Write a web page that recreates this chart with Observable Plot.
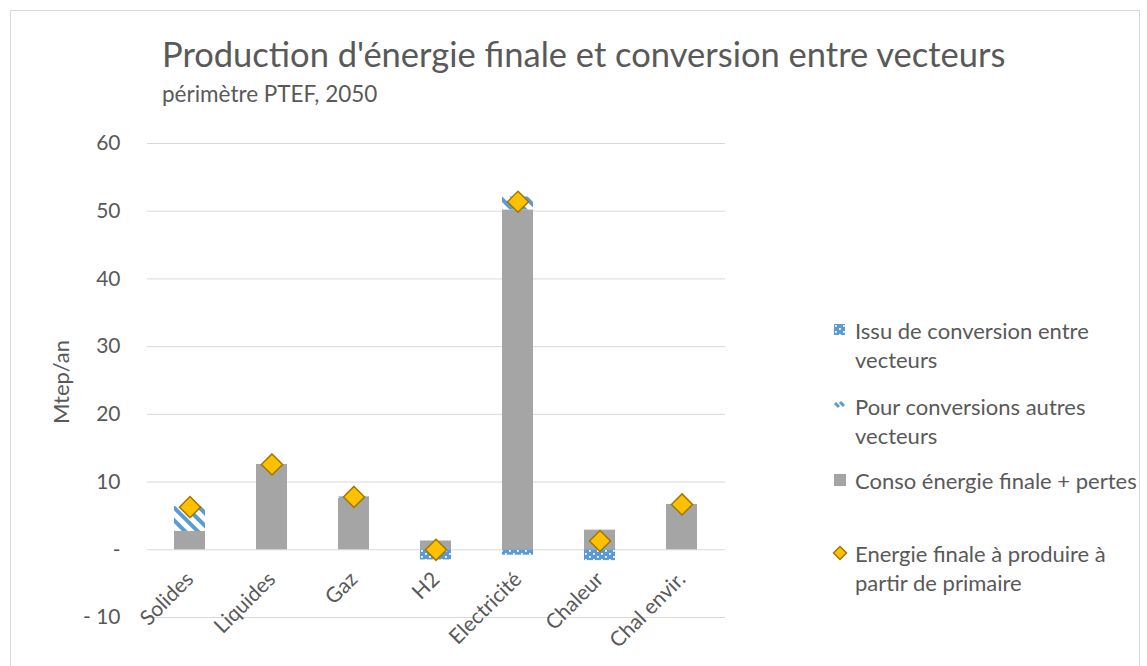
<!DOCTYPE html>
<html><head><meta charset="utf-8">
<script src="https://cdn.jsdelivr.net/npm/d3@7"></script>
<script src="https://cdn.jsdelivr.net/npm/@observablehq/plot@0.6"></script>
<style>
body{margin:0;background:#fff;font-family:Lato, sans-serif;color:#595959}
#wrap{position:relative;width:1147px;height:666px;overflow:hidden}
#frame{position:absolute;left:10px;top:10px;width:1128px;height:700px;border:1px solid #d9d9d9}
#title{position:absolute;left:162px;top:33px;font-size:34.5px;white-space:nowrap;line-height:1.2}
#subtitle{position:absolute;left:162px;top:80px;font-size:22.5px;white-space:nowrap;line-height:1.2}
#ylabel{position:absolute;left:60px;top:382px;transform:translate(-50%,-50%) rotate(-90deg);font-size:22px;white-space:nowrap}
#chart{position:absolute;left:0;top:120px}
.li{position:absolute;left:855px;font-size:22px;line-height:29px;white-space:nowrap}
.sw{position:absolute;left:-21px;top:8px}
</style>
</head><body>
<div id="wrap">
<div id="frame"></div>
<div id="title">Production d'énergie finale et conversion entre vecteurs</div>
<div id="subtitle">périmètre PTEF, 2050</div>
<div id="ylabel">Mtep/an</div>
<div id="chart"></div>
<div id="legend"></div>
</div>
<script>
const categories = ["Solides", "Liquides", "Gaz", "H2", "Electricité", "Chaleur", "Chal envir."];
const consoFinalePertes = [2.7, 12.6, 7.6, 1.3, 50.2, 2.9, 6.7];
const pourConversions = [3.7, 0, 0.2, 0, 1.9, 0, 0];
const issuConversion = [0, 0, 0, -1.5, -0.8, -1.6, 0];
const energieFinale = [6.3, 12.6, 7.8, 0, 51.4, 1.3, 6.7];
const yTicks = [-10, 0, 10, 20, 30, 40, 50, 60];
const seriesNames = ["Issu de conversion entre<br>vecteurs", "Pour conversions autres<br>vecteurs", "Conso énergie finale + pertes", "Energie finale à produire à<br>partir de primaire"];

const fills = {conso: "#a5a5a5", pour: "url(#hatchPour)", issu: "url(#dotsIssu)"};
const rows = [];
categories.forEach((c, i) => {
  rows.push({cat: c, serie: "conso", v: consoFinalePertes[i]});
  rows.push({cat: c, serie: "pour", v: pourConversions[i]});
  rows.push({cat: c, serie: "issu", v: issuConversion[i]});
});
const points = categories.map((c, i) => ({cat: c, v: energieFinale[i]}));
const fmt = d => d === 0 ? "-" : d < 0 ? "- " + Math.abs(d) : String(d);

const plot = Plot.plot({
  width: 760, height: 545,
  marginLeft: 147, marginRight: 35, marginTop: 23, marginBottom: 48,
  x: {domain: categories, paddingInner: 0.62, paddingOuter: 0.31, axis: null},
  y: {domain: [-10, 60], axis: null},
  color: {type: "identity"},
  style: {fontFamily: "Lato, sans-serif", fontSize: "20px", color: "#595959", overflow: "visible", background: "transparent"},
  marks: [
    Plot.gridY(yTicks, {stroke: "#d9d9d9", strokeOpacity: 1, strokeWidth: 1}),
    Plot.axisY(yTicks, {tickSize: 0, tickPadding: 27, tickFormat: fmt, fontSize: 21, fill: "#595959", label: null}),
    Plot.barY(rows.filter(d => d.v !== 0), Plot.stackY({x: "cat", y: "v", fill: d => fills[d.serie]})),
    Plot.dot(points, {x: "cat", y: "v", symbol: "diamond2", r: 9.5, fill: "#ffc000", stroke: "#a07800", strokeWidth: 1.5}),
    Plot.text(categories, {x: d => d, y: () => 0, rotate: -45, textAnchor: "end", dx: 0, dy: 26, fill: "#595959", fontSize: 21})
  ]
});
const defs = `
<pattern id="hatchPour" patternUnits="userSpaceOnUse" width="9" height="9" patternTransform="rotate(-45)">
  <rect width="9" height="9" fill="#fff"/><rect width="4" height="9" fill="#5b9bd5"/>
</pattern>
<pattern id="dotsIssu" patternUnits="userSpaceOnUse" width="8" height="6">
  <rect width="8" height="6" fill="#5b9bd5"/>
  <rect x="1" y="1" width="1.8" height="1.8" fill="#fff"/>
  <rect x="5" y="4" width="1.8" height="1.8" fill="#fff"/>
</pattern>`;
d3.select(plot).insert("defs", ":first-child").html(defs);
document.getElementById("chart").appendChild(plot);

const swatches = [
  `<svg class="sw" width="12" height="12"><rect width="11" height="11" fill="url(#dotsIssu)"/></svg>`,
  `<svg class="sw" width="12" height="12"><path d="M1,3 L5,7 M6,2 L10,6" stroke="#5b9bd5" stroke-width="3" /></svg>`,
  `<svg class="sw" width="12" height="12"><rect width="12" height="12" fill="#a5a5a5"/></svg>`,
  `<svg class="sw" width="16" height="16" style="left:-23px;top:6px"><path d="M8,1.5 L14.5,8 L8,14.5 L1.5,8 Z" fill="#ffc000" stroke="#a07800" stroke-width="1.5"/></svg>`
];
const tops = [316, 392, 466, 539];
const lg = document.getElementById("legend");
seriesNames.forEach((n, i) => {
  const d = document.createElement("div");
  d.className = "li";
  d.style.top = tops[i] + "px";
  d.innerHTML = swatches[i] + n;
  lg.appendChild(d);
});
</script>
</body></html>
